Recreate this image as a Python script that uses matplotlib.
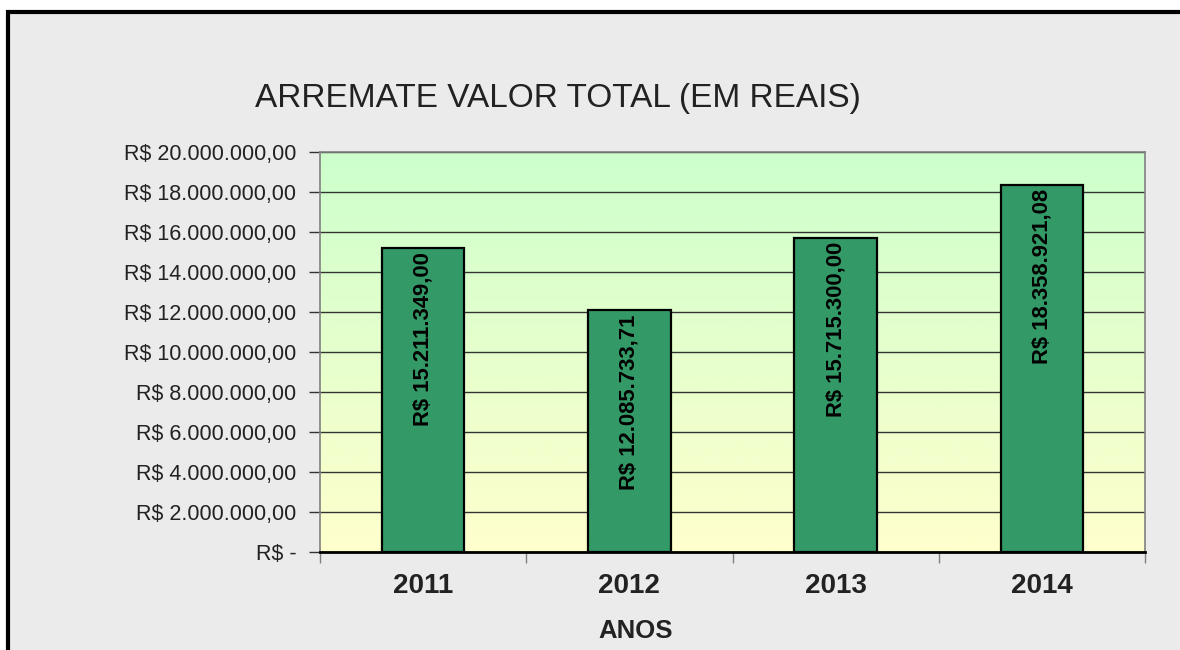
import numpy as np
import matplotlib.pyplot as plt
from matplotlib.patches import Rectangle
from matplotlib.colors import LinearSegmentedColormap
from matplotlib.ticker import FuncFormatter, MultipleLocator

# dados do grafico
anos = ['2011', '2012', '2013', '2014']
valores = [15211349.00, 12085733.71, 15715300.00, 18358921.08]
titulo = 'ARREMATE VALOR TOTAL (EM REAIS)'
rotulo_x = 'ANOS'

plt.rcParams['font.family'] = ['Liberation Sans', 'DejaVu Sans']


def brl(v, pos=None):
    """formato R$ 1.234.567,89"""
    if v == 0:
        return 'R$ -'
    s = f'{v:,.2f}'.replace(',', '#').replace('.', ',').replace('#', '.')
    return 'R$ ' + s


fig = plt.figure(figsize=(11.8, 6.5), dpi=100, facecolor='white')

#----- fundo cinza com borda preta (so esquerda e topo visiveis)
fig.patches.append(Rectangle((8 / 1180, -0.1), 1.2, 1 - 12 / 650 + 0.1,
                             transform=fig.transFigure, facecolor='#ebebeb',
                             edgecolor='black', linewidth=3, zorder=-5))

ax = fig.add_axes([320 / 1180, 1 - 552 / 650, 825 / 1180, 400 / 650])
ax.set_zorder(2)
ax.set_xlim(-0.5, 3.5)
ax.set_ylim(0, 20000000)

# gradiente verde -> amarelo na area de plotagem
cmap = LinearSegmentedColormap.from_list('grad', ['#ffffcc', '#ccffcc'])
grad = np.linspace(0, 1, 256).reshape(-1, 1)
ax.imshow(grad, extent=(-0.5, 3.5, 0, 20000000), origin='lower', aspect='auto',
          cmap=cmap, zorder=0)

x = np.arange(len(anos))
ax.bar(x, valores, width=0.4, color='#339966', edgecolor='black', linewidth=1.6, zorder=3)

for xi, v in zip(x, valores):
    ax.annotate(brl(v), (xi, v), xytext=(0, -3), textcoords='offset points',
                rotation=90, ha='center', va='top', fontsize=15.8, fontweight='bold',
                color='black', zorder=4)

ax.yaxis.set_major_locator(MultipleLocator(2000000))
ax.yaxis.set_major_formatter(FuncFormatter(brl))
ax.grid(axis='y', color='#333333', linewidth=1, zorder=1)
ax.set_axisbelow(True)

ax.set_xticks(x)
ax.set_xticklabels(anos, fontsize=20, fontweight='bold', color='#222222')
ax.set_xticks(np.arange(-0.5, 4, 1), minor=True)
ax.tick_params(axis='x', which='major', length=0, pad=15)
ax.tick_params(axis='x', which='minor', length=8, width=1, color='#808080')
ax.tick_params(axis='y', length=8, width=1, color='#333333', labelsize=15.5, pad=9,
               labelcolor='#222222')

for side in ['top', 'right', 'left']:
    ax.spines[side].set_color('#808080')
    ax.spines[side].set_linewidth(1.2)
ax.spines['bottom'].set_color('black')
ax.spines['bottom'].set_linewidth(2)

fig.text(255 / 1180, 1 - 98 / 650, titulo, fontsize=24, ha='left', va='center',
         color='#222222')
fig.text(636 / 1180, 1 - 631 / 650, rotulo_x, fontsize=18.5, fontweight='bold',
         ha='center', va='center', color='#222222')

fig.savefig('out.png', dpi=100, facecolor=fig.get_facecolor())
